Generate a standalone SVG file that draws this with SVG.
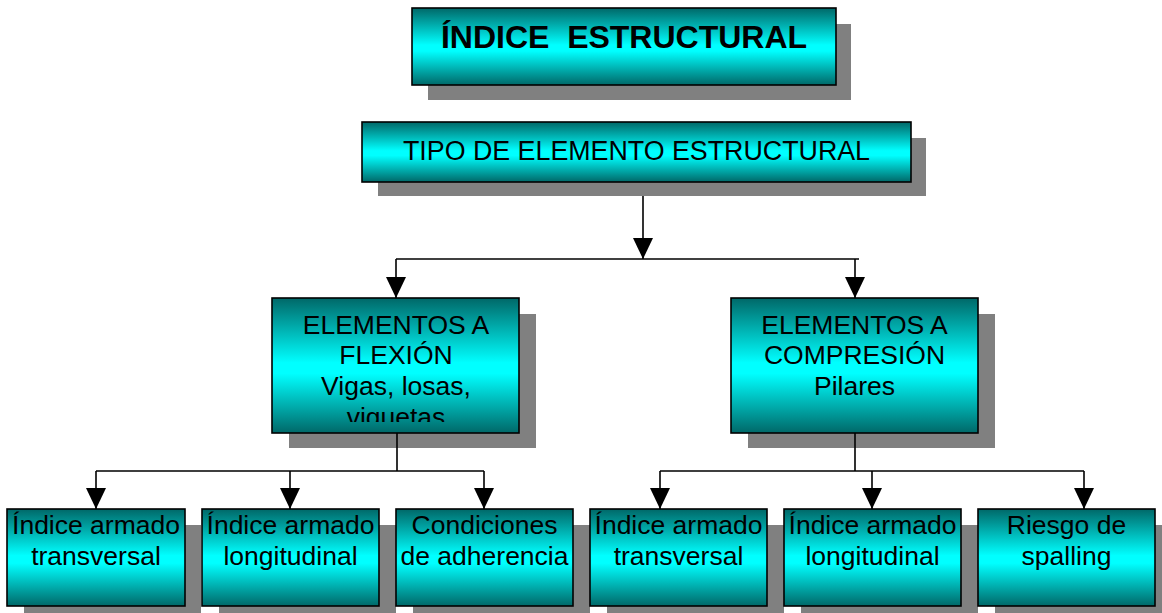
<svg xmlns="http://www.w3.org/2000/svg" width="1162" height="613" viewBox="0 0 1162 613">
<defs>
<linearGradient id="g" x1="0" y1="0" x2="0" y2="1">
<stop offset="0" stop-color="#006868"/>
<stop offset="0.48" stop-color="#00FFFF"/>
<stop offset="0.56" stop-color="#00FFFF"/>
<stop offset="1" stop-color="#006868"/>
</linearGradient>
<marker id="ah" markerUnits="userSpaceOnUse" markerWidth="21" markerHeight="20" viewBox="0 0 21 20" refX="21" refY="10" orient="auto">
<path d="M0,0 L21,10 L0,20 Z" fill="#000"/>
</marker>
<clipPath id="cf"><rect x="272" y="298" width="247" height="124"/></clipPath>
</defs>
<style>
.sh{fill:#808080}
.bx{fill:url(#g);stroke:#000;stroke-width:1.6}
.t{font-family:"Liberation Sans",Arial,sans-serif;font-size:26.5px;fill:#000;text-anchor:middle}
.tp{font-size:26.8px}
.tb{font-family:"Liberation Sans",Arial,sans-serif;font-size:32px;font-weight:bold;fill:#000;text-anchor:middle}
.c{fill:none;stroke:#000;stroke-width:1.6}
.a{marker-end:url(#ah)}
</style>
<rect width="1162" height="613" fill="#fff"/>
<g id="n-title">
<rect class="sh" x="428" y="24" width="423" height="76"/>
<rect class="bx" x="412" y="8" width="424" height="77"/>
<text class="tb" x="624" y="48" xml:space="preserve">ÍNDICE  ESTRUCTURAL</text>
</g>
<g id="n-tipo">
<rect class="sh" x="378" y="138" width="548" height="58"/>
<rect class="bx" x="362" y="122" width="549" height="60"/>
<text class="t tp" x="636.5" y="160">TIPO DE ELEMENTO ESTRUCTURAL</text>
</g>
<g id="n-flexion">
<rect class="sh" x="289" y="314" width="247" height="134"/>
<rect class="bx" x="272" y="298" width="247" height="135"/>
<g clip-path="url(#cf)">
<text class="t" x="396" y="334">ELEMENTOS A</text>
<text class="t" x="396" y="364">FLEXIÓN</text>
<text class="t" x="396" y="395">Vigas, losas,</text>
<text class="t" x="396" y="426">viguetas</text>
</g>
</g>
<g id="n-compresion">
<rect class="sh" x="748" y="314" width="247" height="134"/>
<rect class="bx" x="731" y="298" width="247" height="135"/>
<text class="t" x="854.5" y="334">ELEMENTOS A</text>
<text class="t" x="854.5" y="364">COMPRESIÓN</text>
<text class="t" x="854.5" y="395">Pilares</text>
</g>
<g id="n-b1">
<rect class="sh" x="24" y="525" width="177" height="90"/>
<rect class="bx" x="7" y="509" width="178" height="97"/>
<text class="t" x="96" y="534">Índice armado</text>
<text class="t" x="96" y="565">transversal</text>
</g>
<g id="n-b2">
<rect class="sh" x="219" y="525" width="177" height="90"/>
<rect class="bx" x="202" y="509" width="177" height="97"/>
<text class="t" x="290.5" y="534">Índice armado</text>
<text class="t" x="290.5" y="565">longitudinal</text>
</g>
<g id="n-b3">
<rect class="sh" x="413" y="525" width="177" height="90"/>
<rect class="bx" x="396" y="509" width="177" height="97"/>
<text class="t" x="484.5" y="534">Condiciones</text>
<text class="t" x="484.5" y="565">de adherencia</text>
</g>
<g id="n-b4">
<rect class="sh" x="607" y="525" width="177" height="90"/>
<rect class="bx" x="590" y="509" width="177" height="97"/>
<text class="t" x="678.5" y="534">Índice armado</text>
<text class="t" x="678.5" y="565">transversal</text>
</g>
<g id="n-b5">
<rect class="sh" x="801" y="525" width="177" height="90"/>
<rect class="bx" x="784" y="509" width="177" height="97"/>
<text class="t" x="872.5" y="534">Índice armado</text>
<text class="t" x="872.5" y="565">longitudinal</text>
</g>
<g id="n-b6">
<rect class="sh" x="995" y="525" width="177" height="90"/>
<rect class="bx" x="978" y="509" width="177" height="97"/>
<text class="t" x="1066.5" y="534">Riesgo de</text>
<text class="t" x="1066.5" y="565">spalling</text>
</g>
<g id="connectors">
<path class="c a" d="M643,196 V259"/>
<path class="c" d="M396,259 H859"/>
<path class="c a" d="M396,259 V298"/>
<path class="c a" d="M855,259 V298"/>
<path class="c" d="M397,433 V471 M96,471 H484"/>
<path class="c a" d="M96,471 V509"/>
<path class="c a" d="M290,471 V509"/>
<path class="c a" d="M484,471 V509"/>
<path class="c" d="M855,433 V471 M660,471 H1084"/>
<path class="c a" d="M660,471 V509"/>
<path class="c a" d="M872,471 V509"/>
<path class="c a" d="M1084,471 V509"/>
</g>
</svg>
